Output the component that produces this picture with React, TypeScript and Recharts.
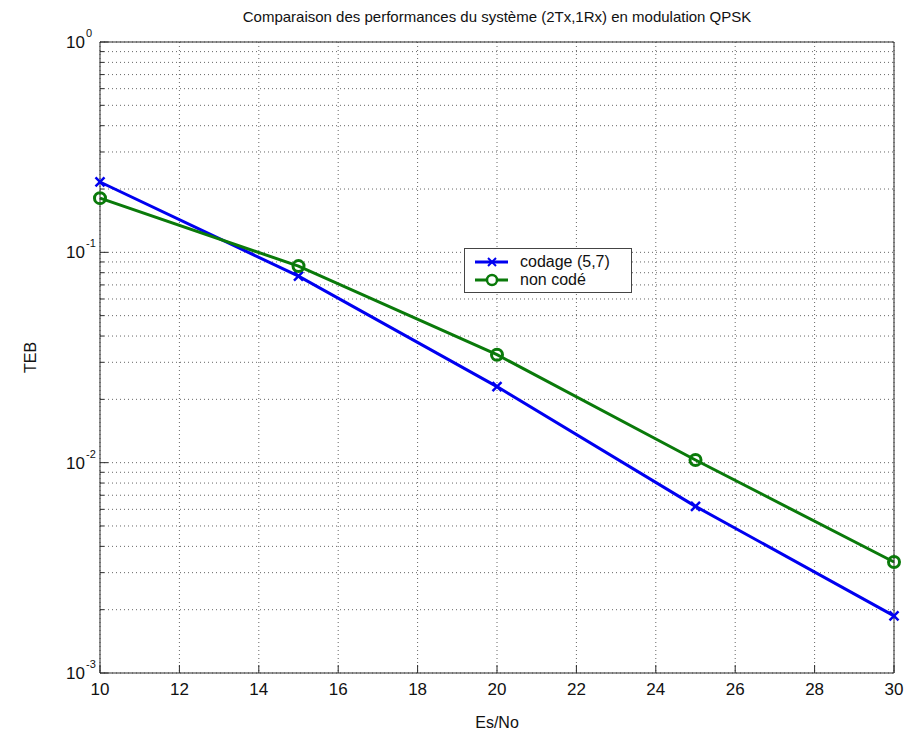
import React from 'react';
import { LineChart, Line, XAxis, YAxis, CartesianGrid, Legend } from 'recharts';

const esNo = [10, 15, 20, 25, 30];
const tebCoded = [0.216, 0.077, 0.023, 0.0062, 0.00187];
const tebUncoded = [0.181, 0.086, 0.0326, 0.0103, 0.00337];
const xTicks = [10, 12, 14, 16, 18, 20, 22, 24, 26, 28, 30];
const yDecades = [0.001, 0.01, 0.1, 1];
const yMantissas = [1, 2, 3, 4, 5, 6, 7, 8, 9];
const seriesNames = ['codage (5,7)', 'non codé'];
const titleText = 'Comparaison des performances du système (2Tx,1Rx) en modulation QPSK';

const data = esNo.map((x, i) => ({ esNo: x, coded: tebCoded[i], uncoded: tebUncoded[i] }));
const yTicks: number[] = [];
yDecades.forEach((d, di) => {
  if (di === yDecades.length - 1) { yTicks.push(d); return; }
  yMantissas.forEach((m) => yTicks.push(Number((d * m).toPrecision(6))));
});
const majorSet = new Set(yDecades);

const FONT = '"Liberation Sans", Arial, Helvetica, sans-serif';
const AXIS = '#2a2a2a';
const BLUE = '#0000f0';
const GREEN = '#0a7a0a';

const LeftTick = (props: any) => {
  const { x, y, payload } = props;
  const v = payload.value;
  const major = majorSet.has(v);
  const len = major ? 8 : 4;
  const exp = Math.round(Math.log10(v));
  return (
    <g>
      <line x1={x} x2={x + len} y1={y} y2={y} stroke={AXIS} strokeWidth={1} />
      {major && (
        <text x={x - 15} y={y + 6} textAnchor="end" fontFamily={FONT} fontSize={17} fill="#111">10</text>
      )}
      {major && (
        <text x={x - 14} y={y - 5} textAnchor="start" fontFamily={FONT} fontSize={11} fill="#111">{exp}</text>
      )}
    </g>
  );
};

const RightTick = (props: any) => {
  const { x, y, payload } = props;
  const major = majorSet.has(payload.value);
  const len = major ? 8 : 4;
  return <line x1={x - len} x2={x} y1={y} y2={y} stroke={AXIS} strokeWidth={1} />;
};

const BottomTick = (props: any) => {
  const { x, y, payload } = props;
  return (
    <g>
      <line x1={x} x2={x} y1={y} y2={y - 8} stroke={AXIS} strokeWidth={1} />
      <text x={x} y={y + 22} textAnchor="middle" fontFamily={FONT} fontSize={17} fill="#111">{payload.value}</text>
    </g>
  );
};

const TopTick = (props: any) => {
  const { x, y } = props;
  return <line x1={x} x2={x} y1={y} y2={y + 8} stroke={AXIS} strokeWidth={1} />;
};

const XMark = (props: any) => {
  const { cx, cy } = props;
  if (cx == null || cy == null) return null;
  const s = 4.5;
  return (
    <g stroke={BLUE} strokeWidth={2.5}>
      <line x1={cx - s} y1={cy - s} x2={cx + s} y2={cy + s} />
      <line x1={cx - s} y1={cy + s} x2={cx + s} y2={cy - s} />
    </g>
  );
};

const OMark = (props: any) => {
  const { cx, cy } = props;
  if (cx == null || cy == null) return null;
  return <circle cx={cx} cy={cy} r={5.5} fill="none" stroke={GREEN} strokeWidth={3} />;
};

const LegendBox = () => (
  <div style={{ background: '#fff', border: '1px solid #444', width: 168, height: 45, boxSizing: 'border-box', padding: '4px 0 0 9px', fontFamily: FONT, fontSize: 16, color: '#111' }}>
    {[0, 1].map((i) => (
      <div key={i} style={{ display: 'flex', alignItems: 'center', height: 18 }}>
        <svg width={36} height={14} style={{ marginRight: 10 }}>
          <line x1={1} x2={34} y1={7} y2={7} stroke={i === 0 ? BLUE : GREEN} strokeWidth={3} />
          {i === 0 ? (
            <g stroke={BLUE} strokeWidth={2}>
              <line x1={14} y1={3} x2={22} y2={11} />
              <line x1={14} y1={11} x2={22} y2={3} />
            </g>
          ) : (
            <circle cx={18} cy={7} r={5} fill="#fff" stroke={GREEN} strokeWidth={2.5} />
          )}
        </svg>
        <span>{seriesNames[i]}</span>
      </div>
    ))}
  </div>
);

export default function App() {
  return (
    <div style={{ position: 'absolute', left: 0, top: 0, width: 906, height: 738, background: '#fff', overflow: 'hidden' }}>
      <LineChart width={906} height={738} data={data} margin={{ top: 41, right: 11, bottom: 8, left: 20 }} style={{ overflow: 'visible' }}>
        <CartesianGrid stroke="#666" strokeDasharray="1 3" />
        <XAxis
          dataKey="esNo"
          type="number"
          domain={[10, 30]}
          ticks={xTicks}
          height={57}
          tickSize={0}
          tickMargin={0}
          tickLine={false}
          stroke={AXIS}
          tick={<BottomTick />}
          interval={0}
          label={{ value: 'Es/No', position: 'insideBottom', offset: 2, style: { fontFamily: FONT, fontSize: 16, fill: '#111' } }}
        />
        <XAxis
          xAxisId="top"
          orientation="top"
          type="number"
          domain={[10, 30]}
          ticks={xTicks}
          height={1}
          tickSize={0}
          tickMargin={0}
          tickLine={false}
          stroke={AXIS}
          tick={<TopTick />}
          interval={0}
          label={{ value: titleText, position: 'top', offset: 19, style: { fontFamily: FONT, fontSize: 15, fill: '#111' } }}
        />
        <YAxis
          scale="log"
          type="number"
          domain={[0.001, 1]}
          ticks={yTicks}
          width={80}
          tickSize={0}
          tickMargin={0}
          tickLine={false}
          stroke={AXIS}
          tick={<LeftTick />}
          interval={0}
          label={{ value: 'TEB', angle: -90, position: 'insideLeft', offset: 10, style: { textAnchor: 'middle', fontFamily: FONT, fontSize: 16, fill: '#111' } }}
        />
        <YAxis
          yAxisId="right"
          orientation="right"
          scale="log"
          type="number"
          domain={[0.001, 1]}
          ticks={yTicks}
          width={1}
          tickSize={0}
          tickMargin={0}
          tickLine={false}
          stroke={AXIS}
          tick={<RightTick />}
          interval={0}
        />
        <Legend
          layout="horizontal"
          verticalAlign="middle"
          align="center"
          content={<LegendBox />}
          wrapperStyle={{ position: 'absolute', left: 464, top: 248, width: 'auto', height: 'auto' }}
        />
        <Line dataKey="coded" name={seriesNames[0]} stroke={BLUE} strokeWidth={3} dot={<XMark />} activeDot={false} isAnimationActive={false} />
        <Line dataKey="uncoded" name={seriesNames[1]} stroke={GREEN} strokeWidth={3} dot={<OMark />} activeDot={false} isAnimationActive={false} />
      </LineChart>
    </div>
  );
}
